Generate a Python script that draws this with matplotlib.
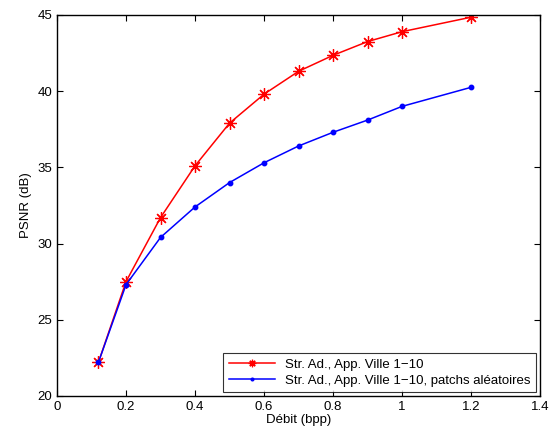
import matplotlib
matplotlib.use("Agg")
import matplotlib.pyplot as plt

debit = [0.12, 0.2, 0.3, 0.4, 0.5, 0.6, 0.7, 0.8, 0.9, 1.0, 1.2]
psnr_ville = [22.2, 27.5, 31.7, 35.1, 37.9, 39.8, 41.3, 42.35, 43.25, 43.9, 44.85]
psnr_patchs = [22.2, 27.3, 30.4, 32.4, 34.0, 35.3, 36.4, 37.3, 38.1, 39.0, 40.25]

labels = ["Str. Ad., App. Ville 1\u221210",
          "Str. Ad., App. Ville 1\u221210, patchs al\u00e9atoires"]

plt.rcParams["font.family"] = ["Liberation Sans", "DejaVu Sans"]

fig = plt.figure(figsize=(5.5, 4.38), dpi=100)
ax = fig.add_axes([0.1036, 0.096, 0.8786, 0.870])

ax.plot(debit, psnr_ville, color="red", lw=1.1, marker=(8, 2, 0), ms=9, mew=0.9,
        label=labels[0])
ax.plot(debit, psnr_patchs, color="blue", lw=1.1, marker="o", ms=3.2,
        label=labels[1])

ax.set_xlim(0, 1.4)
ax.set_ylim(20, 45)
ax.set_xticks([0, 0.2, 0.4, 0.6, 0.8, 1.0, 1.2, 1.4])
ax.set_xticklabels(["0", "0.2", "0.4", "0.6", "0.8", "1", "1.2", "1.4"])
ax.set_yticks([20, 25, 30, 35, 40, 45])
ax.tick_params(direction="in", top=True, right=True, labelsize=9.5, length=4)
for s in ax.spines.values():
    s.set_linewidth(1.0)
ax.set_xlabel("D\u00e9bit (bpp)", fontsize=9.5, labelpad=1)
ax.set_ylabel("PSNR (dB)", fontsize=9.5)

leg = ax.legend(loc="lower right", fontsize=9.5, fancybox=False, edgecolor="black",
                borderaxespad=0.3, handlelength=3.5, labelspacing=0.3, markerscale=0.6)
leg.get_frame().set_linewidth(0.8)

fig.savefig("out.png", dpi=100)
